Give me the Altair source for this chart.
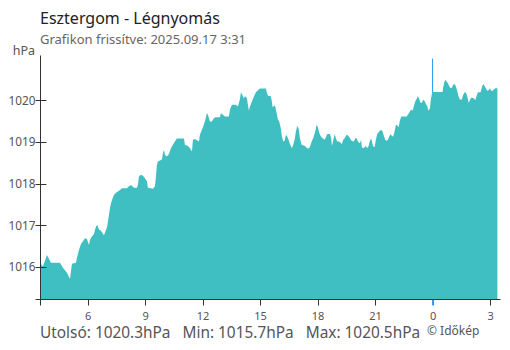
import altair as alt
import pandas as pd

# hours since midnight of 2025-09-16 (values > 24 belong to 09-17)
hours = [
    3.515, 3.593, 3.671, 3.776, 3.880, 3.984, 4.089, 4.558, 4.715, 4.923,
    5.080, 5.132, 5.184, 5.393, 5.445, 5.549, 5.654, 5.758, 5.862, 5.967,
    6.071, 6.123, 6.227, 6.332, 6.436, 6.514, 6.593, 6.697, 6.853, 6.906,
    7.010, 7.062, 7.114, 7.166, 7.219, 7.307, 7.375, 7.479, 7.688, 7.792,
    8.053, 8.158, 8.262, 8.418, 8.575, 8.627, 8.679, 8.784, 8.888, 8.992,
    9.097, 9.149, 9.410, 9.514, 9.566, 9.618, 9.670, 9.879, 9.931, 9.983,
    10.036, 10.140, 10.244, 10.348, 10.453, 10.557, 10.661, 11.027, 11.079, 11.235,
    11.340, 11.444, 11.496, 11.600, 11.809, 11.861, 11.966, 12.018, 12.122, 12.174,
    12.226, 12.278, 12.383, 12.487, 12.539, 12.644, 12.905, 12.957, 13.061, 13.165,
    13.374, 13.426, 13.531, 13.739, 13.844, 13.948, 14.000, 14.104, 14.156, 14.209,
    14.313, 14.365, 14.417, 14.470, 14.574, 14.678, 14.782, 14.887, 14.991, 15.304,
    15.341, 15.424, 15.549, 15.601, 15.654, 15.774, 15.862, 15.930, 15.998, 16.071,
    16.139, 16.207, 16.280, 16.347, 16.415, 16.488, 16.556, 16.660, 16.728, 16.801,
    16.869, 16.937, 17.010, 17.078, 17.166, 17.339, 17.459, 17.563, 17.636, 17.704,
    17.771, 17.876, 17.949, 18.017, 18.084, 18.158, 18.262, 18.366, 18.434, 18.502,
    18.643, 18.710, 18.747, 18.815, 18.888, 18.956, 19.023, 19.128, 19.269, 19.336,
    19.409, 19.514, 19.618, 19.686, 19.790, 19.895, 19.962, 20.035, 20.103, 20.207,
    20.275, 20.312, 20.380, 20.521, 20.588, 20.662, 20.729, 20.797, 20.834, 20.901,
    20.974, 21.042, 21.110, 21.214, 21.319, 21.392, 21.460, 21.528, 21.601, 21.669,
    21.736, 21.809, 21.877, 21.945, 22.018, 22.086, 22.153, 22.226, 22.294, 22.362,
    22.644, 22.712, 22.816, 22.884, 22.957, 23.025, 23.092, 23.165, 23.233, 23.301,
    23.374, 23.442, 23.510, 23.583, 23.651, 23.718, 23.791, 23.859, 23.911, 23.979,
    24.522, 24.553, 24.605, 24.657, 24.730, 24.798, 24.866, 24.939, 25.007, 25.074,
    25.148, 25.215, 25.283, 25.356, 25.424, 25.528, 25.596, 25.669, 25.737, 25.805,
    25.878, 25.946, 26.013, 26.154, 26.222, 26.295, 26.363, 26.504, 26.572, 26.640,
    26.713, 26.781, 26.848, 26.921, 26.989, 27.057, 27.130, 27.198, 27.266, 27.381,
]

pressure = [
    1016.19, 1016.05, 1016.02, 1016.15, 1016.29, 1016.20, 1016.10, 1016.10, 1015.98, 1015.86,
    1015.71, 1015.89, 1016.08, 1016.10, 1016.22, 1016.41, 1016.55, 1016.62, 1016.69, 1016.67,
    1016.53, 1016.65, 1016.73, 1016.79, 1016.97, 1017.01, 1016.90, 1016.87, 1016.76, 1016.82,
    1016.95, 1017.09, 1017.25, 1017.41, 1017.53, 1017.65, 1017.73, 1017.78, 1017.85, 1017.89,
    1017.89, 1017.94, 1017.97, 1017.90, 1017.90, 1017.98, 1018.17, 1018.21, 1018.19, 1018.13,
    1018.06, 1017.90, 1017.88, 1017.94, 1018.17, 1018.45, 1018.53, 1018.58, 1018.73, 1018.81,
    1018.69, 1018.65, 1018.71, 1018.85, 1018.93, 1019.01, 1019.08, 1019.08, 1018.93, 1018.90,
    1018.85, 1018.77, 1019.05, 1019.07, 1019.01, 1019.17, 1019.29, 1019.35, 1019.49, 1019.59,
    1019.69, 1019.65, 1019.49, 1019.49, 1019.54, 1019.59, 1019.59, 1019.69, 1019.65, 1019.61,
    1019.61, 1019.78, 1019.89, 1019.89, 1019.85, 1020.03, 1020.19, 1020.10, 1020.04, 1020.10,
    1020.05, 1019.89, 1019.75, 1019.85, 1019.97, 1020.09, 1020.19, 1020.24, 1020.28, 1020.28,
    1020.20, 1020.10, 1020.10, 1020.01, 1019.83, 1019.88, 1019.70, 1019.54, 1019.49, 1019.35,
    1019.13, 1019.01, 1019.03, 1019.17, 1019.13, 1019.05, 1018.95, 1018.85, 1018.93, 1019.05,
    1019.25, 1019.38, 1019.33, 1019.09, 1018.93, 1018.90, 1018.85, 1018.85, 1018.93, 1019.03,
    1019.09, 1019.25, 1019.41, 1019.35, 1019.22, 1019.14, 1019.09, 1019.05, 1019.11, 1019.19,
    1019.19, 1019.09, 1018.90, 1019.03, 1019.19, 1019.09, 1019.01, 1019.01, 1018.95, 1019.05,
    1019.09, 1019.17, 1019.14, 1019.09, 1019.02, 1019.01, 1019.09, 1019.09, 1019.01, 1018.97,
    1019.05, 1018.87, 1018.85, 1018.90, 1018.85, 1018.90, 1019.03, 1019.09, 1019.01, 1018.89,
    1018.88, 1019.05, 1019.19, 1019.25, 1019.29, 1019.25, 1019.14, 1019.05, 1019.03, 1019.05,
    1019.13, 1019.19, 1019.14, 1019.13, 1019.25, 1019.41, 1019.40, 1019.35, 1019.51, 1019.61,
    1019.61, 1019.65, 1019.73, 1019.78, 1019.75, 1019.86, 1019.97, 1020.03, 1020.10, 1020.03,
    1019.94, 1019.94, 1020.01, 1019.98, 1019.91, 1019.86, 1019.75, 1019.80, 1020.02, 1020.20,
    1020.20, 1020.31, 1020.42, 1020.49, 1020.45, 1020.41, 1020.34, 1020.29, 1020.30, 1020.37,
    1020.39, 1020.33, 1020.23, 1020.09, 1020.02, 1020.02, 1020.13, 1020.19, 1020.18, 1020.10,
    1019.94, 1020.00, 1020.06, 1020.05, 1020.00, 1020.10, 1020.19, 1020.19, 1020.31, 1020.39,
    1020.34, 1020.29, 1020.23, 1020.24, 1020.29, 1020.23, 1020.23, 1020.26, 1020.29, 1020.29,
]

title_text = "Esztergom - Légnyomás"
subtitle_text = "Grafikon frissítve: 2025.09.17 3:31"
unit_text = "hPa"
credit_text = "© Időkép"

x_domain = [3.517, 27.517]
y_domain = [1015.232, 1021.086]
x_ticks = [3.517, 6, 9, 12, 15, 18, 21, 24, 27]
y_ticks = [1015.232, 1016, 1017, 1018, 1019, 1020]
midnight = 24

last_v = round(pressure[-1], 1)
min_v = round(min(pressure), 1)
max_v = round(max(pressure), 1)
NB = "\u00a0"
summary_text = (f"Utolsó: {last_v}hPa{NB}{NB} Min: {min_v}hPa{NB}{NB} Max: {max_v}hPa")

FONT = "Noto Sans"
AXIS_COLOR = "#333333"
TEXT_GREY = "#555555"
AREA_COLOR = "#40bfc2"
BLUE = "#2196f3"

W, H = 460, 244

df = pd.DataFrame({"h": hours, "p": pressure})

x_enc = alt.X(
    "h:Q",
    scale=alt.Scale(domain=x_domain, nice=False, zero=False),
    axis=alt.Axis(
        values=x_ticks,
        labelExpr="datum.value % 1 == 0 ? format(datum.value % 24, 'd') : ''",
        title=None,
        tickSize=6,
        labelPadding=5,
        labelFont=FONT,
        labelFontSize=11,
        labelColor=TEXT_GREY,
        labelFlush=False,
        labelOverlap=False,
        domainColor=AXIS_COLOR,
        tickColor={"condition": {"test": f"datum.value == {midnight}", "value": BLUE},
                   "value": AXIS_COLOR},
        grid=True,
        gridColor=AXIS_COLOR,
        gridOpacity={"condition": {"test": "datum.value < 4", "value": 1}, "value": 0},
        zindex=1,
    ),
)

y_enc = alt.Y(
    "p:Q",
    scale=alt.Scale(domain=y_domain, nice=False, zero=False),
    axis=alt.Axis(
        values=y_ticks,
        labelExpr="datum.value % 1 == 0 ? format(datum.value, 'd') : ''",
        title=None,
        domain=False,
        offset=-6,
        tickSize=11,
        labelPadding=0,
        labelFont=FONT,
        labelFontSize=11.8,
        labelColor=TEXT_GREY,
        labelFlush=False,
        labelOverlap=False,
        tickColor=AXIS_COLOR,
        grid=False,
        zindex=1,
    ),
)

area = alt.Chart(df).mark_area(color=AREA_COLOR, interpolate="linear", clip=True).encode(
    x=x_enc, y=y_enc
)

rule = alt.Chart(pd.DataFrame({"m": [midnight]})).mark_rule(color=BLUE, strokeWidth=1).encode(
    x=alt.X("m:Q"), y=alt.datum(1021.0), y2=alt.datum(1015.08)
)


def label(text, x, y, size, color, align="left", weight="normal"):
    return alt.Chart(pd.DataFrame({"t": [text]})).mark_text(
        align=align, baseline="alphabetic", font=FONT, fontSize=size,
        color=color, fontWeight=weight
    ).encode(text="t:N", x=alt.value(x), y=alt.value(y))


t_title = label(title_text, 0, -31, 16, "#222222")
t_sub = label(subtitle_text, 0, -11, 13, "#666666")
t_unit = label(unit_text, -5, 0, 12.5, TEXT_GREY, align="right")
t_sum = label(summary_text, 0, 283, 15.4, TEXT_GREY)
t_credit = label(credit_text, 387, 280, 12, TEXT_GREY)

chart = alt.layer(rule, area, t_title, t_sub, t_unit, t_sum, t_credit).properties(
    width=W,
    height=H,
    padding={"left": 32, "top": 47, "right": 2, "bottom": 43},
    autosize=alt.AutoSizeParams(type="none"),
    background="white",
).configure_view(stroke="transparent")

chart.save("out.html", embed_options={"renderer": "svg", "actions": False})
